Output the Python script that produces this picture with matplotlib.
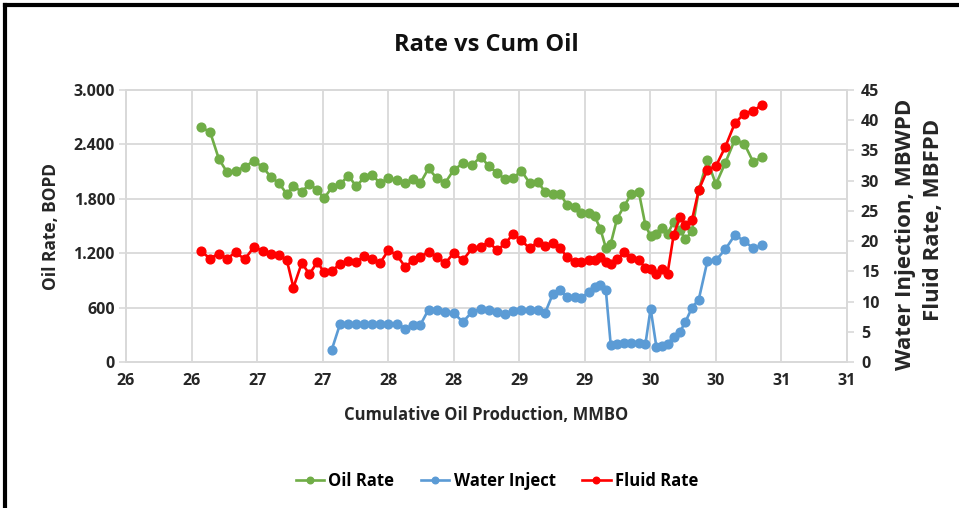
import matplotlib
matplotlib.use("Agg")
import matplotlib.pyplot as plt
from matplotlib.lines import Line2D
import numpy as np

# ---------------- data ----------------
cum_oil = [26.070, 26.141, 26.208, 26.269, 26.337, 26.406, 26.477, 26.544, 26.605, 26.668,
           26.727, 26.777, 26.841, 26.899, 26.960, 27.011, 27.070, 27.134, 27.195, 27.256,
           27.319, 27.380, 27.439, 27.502, 27.566, 27.630, 27.689, 27.744, 27.808, 27.872,
           27.935, 27.999, 28.070, 28.139, 28.208, 28.266, 28.330, 28.393, 28.452, 28.515,
           28.579, 28.640, 28.698, 28.757, 28.813, 28.863, 28.924, 28.973, 29.029, 29.075,
           29.118, 29.160, 29.198, 29.246, 29.302, 29.355, 29.412, 29.462, 29.502, 29.546,
           29.589, 29.631, 29.678, 29.725, 29.767, 29.818, 29.869, 29.935, 30.000, 30.071,
           30.144, 30.216, 30.285, 30.355]

oil_rate = [2588, 2540, 2241, 2098, 2109, 2153, 2219, 2146, 2043, 1970,
            1852, 1940, 1877, 1962, 1896, 1804, 1926, 1960, 2056, 1940,
            2036, 2061, 1970, 2032, 2006, 1976, 2014, 1970, 2135, 2025,
            1976, 2117, 2191, 2172, 2264, 2161, 2087, 2014, 2025, 2109,
            1976, 1987, 1877, 1852, 1852, 1736, 1708, 1639, 1642, 1609,
            1471, 1261, 1305, 1581, 1725, 1852, 1874, 1509, 1388, 1416,
            1473, 1414, 1542, 1454, 1355, 1443, 1896, 2224, 1960, 2194,
            2451, 2409, 2205, 2264]

fluid_rate = [18.38, 17.12, 17.95, 17.12, 18.12, 17.01, 19.05, 18.38, 17.95, 17.67,
              16.84, 12.32, 16.40, 14.52, 16.56, 14.81, 15.10, 16.21, 16.68, 16.56,
              17.51, 16.96, 16.40, 18.50, 17.67, 15.73, 16.84, 17.39, 18.22, 17.39,
              16.30, 18.05, 16.84, 18.78, 19.05, 19.87, 18.50, 19.61, 21.15, 20.16,
              18.78, 19.87, 19.16, 19.61, 18.78, 17.42, 16.60, 16.51, 16.93, 16.84,
              17.42, 16.51, 16.26, 17.01, 18.17, 17.26, 16.84, 15.60, 15.35, 14.64,
              15.44, 14.64, 21.07, 24.01, 22.64, 23.55, 28.44, 31.83, 32.41, 35.56,
              39.48, 41.11, 41.55, 42.60]

# water injection starts at the 17th point
water_inject = [np.nan] * 16 + [
              2.05, 6.36, 6.36, 6.36, 6.36, 6.36, 6.36, 6.24, 6.36, 5.53,
              6.08, 6.08, 8.68, 8.56, 8.28, 8.12, 6.62, 8.28, 8.84, 8.68,
              8.28, 7.90, 8.45, 8.68, 8.56, 8.68, 8.18, 11.30, 11.87, 10.77,
              10.80, 10.55, 11.59, 12.42, 12.70, 11.99, 2.77, 3.01, 3.15, 3.15,
              3.15, 2.93, 8.84, 2.48, 2.65, 3.05, 4.14, 4.97, 6.62, 9.01,
              10.33, 16.68, 16.84, 18.62, 20.98, 20.04, 18.78, 19.33]

x_ticks = [25.5, 26.0, 26.5, 27.0, 27.5, 28.0, 28.5, 29.0, 29.5, 30.0, 30.5, 31.0]
x_tick_labels = ["26", "26", "27", "27", "28", "28", "29", "29", "30", "30", "31", "31"]
left_ticks = [0, 600, 1200, 1800, 2400, 3000]
left_tick_labels = ["0", "600", "1.200", "1.800", "2.400", "3.000"]
right_ticks = [0, 5, 10, 15, 20, 25, 30, 35, 40, 45]

# ---------------- style ----------------
FONT = ["Open Sans", "DejaVu Sans"]
plt.rcParams["font.family"] = FONT
GREEN = "#70AD47"
BLUE = "#5B9BD5"
RED = "#FF0000"
GRID = "#D9D9D9"
TXT = "#262626"

fig = plt.figure(figsize=(9.59, 5.08), dpi=100)
ax = fig.add_axes([126 / 959, 1 - 362 / 508, (847 - 126) / 959, (362 - 90) / 508])
ax2 = ax.twinx()

ms = 6.3
lw = 1.9
l1, = ax.plot(cum_oil, oil_rate, color=GREEN, marker="o", ms=ms, lw=lw, label="Oil Rate", zorder=3)
l2, = ax2.plot(cum_oil, water_inject, color=BLUE, marker="o", ms=ms, lw=lw, label="Water Inject", zorder=3)
l3, = ax2.plot(cum_oil, fluid_rate, color=RED, marker="o", ms=ms, lw=lw, label="Fluid Rate", zorder=4)

ax.set_xlim(25.5, 31.0)
ax.set_ylim(0, 3000)
ax2.set_ylim(0, 45)

ax.set_xticks(x_ticks)
ax.set_xticklabels(x_tick_labels)
ax.set_yticks(left_ticks)
ax.set_yticklabels(left_tick_labels)
ax2.set_yticks(right_ticks)

ax.grid(True, color=GRID, lw=1.3)
ax.set_axisbelow(True)

for a in (ax, ax2):
    for s in a.spines.values():
        s.set_color(GRID)
        s.set_linewidth(1.3)
    a.tick_params(colors=GRID, labelcolor=TXT, length=5, width=1.2, labelsize=11.5)
    for lab in a.get_yticklabels() + a.get_xticklabels():
        lab.set_fontweight("bold")
ax.tick_params(axis="x", length=0, pad=8)
ax.tick_params(axis="y", pad=3)
ax2.tick_params(axis="y", pad=5)

ax.set_ylabel("Oil Rate, BOPD", fontsize=12.5, fontweight="bold", color=TXT, labelpad=10)
ax.set_xlabel("Cumulative Oil Production, MMBO", fontsize=12, fontweight="bold", color=TXT, labelpad=12)

fig.text(906 / 959, 1 - 234 / 508, "Water Injection, MBWPD", rotation=90, ha="center", va="center",
         fontsize=16, fontweight="bold", color=TXT)
fig.text(934 / 959, 1 - 220 / 508, "Fluid Rate, MBFPD", rotation=90, ha="center", va="center",
         fontsize=16, fontweight="bold", color=TXT)

fig.text(486 / 959, 1 - 45 / 508, "Rate vs Cum Oil", ha="center", va="center",
         fontsize=17, fontweight="bold", color="#111111")

fig.legend(handles=[l1, l2, l3], loc="center", bbox_to_anchor=(497 / 959, 1 - 481 / 508),
           ncol=3, frameon=False, handlelength=1.7, columnspacing=1.6,
           handletextpad=0.25, markerscale=0.75, prop={"weight": "bold", "size": 12})

# outer chart border (top and left)
fig.add_artist(Line2D([5 / 959, 1], [1 - 5 / 508, 1 - 5 / 508], transform=fig.transFigure,
                      color="black", lw=3))
fig.add_artist(Line2D([5 / 959, 5 / 959], [0, 1 - 5 / 508], transform=fig.transFigure,
                      color="black", lw=3))

fig.savefig("out.png", dpi=100)
